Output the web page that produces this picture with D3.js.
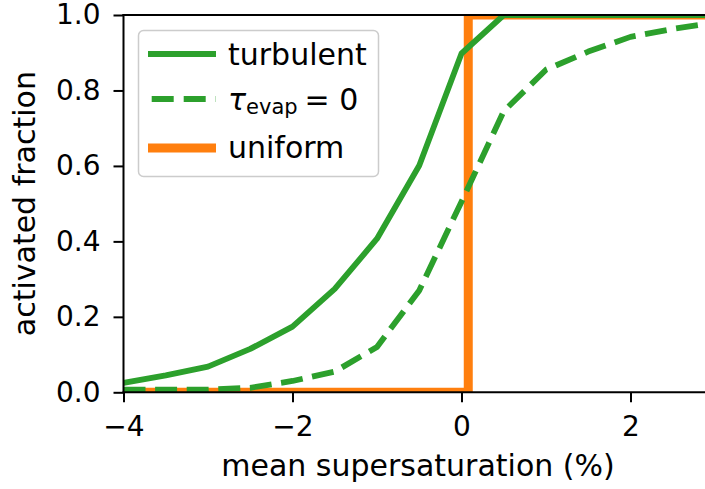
<!DOCTYPE html>
<html>
<head>
<meta charset="utf-8">
<script src="https://cdn.jsdelivr.net/npm/d3@7"></script>
<style>
  html, body { margin: 0; padding: 0; background: #fff; }
  svg { display: block; }
  text { font-family: "DejaVu Sans", sans-serif; fill: #000; }
</style>
</head>
<body>
<svg id="chart" width="705" height="489"></svg>
<script>
// ---- data ----
const xValues = [-4, -3.5, -3, -2.5, -2, -1.5, -1, -0.5, 0, 0.5, 1, 1.5, 2, 2.5, 3];
const turbulent = [0.025, 0.045, 0.068, 0.115, 0.174, 0.274, 0.407, 0.601, 0.898, 1, 1, 1, 1, 1, 1];
const tauEvap0 = [0.007, 0.007, 0.007, 0.012, 0.03, 0.055, 0.12, 0.27, 0.505, 0.745, 0.855, 0.903, 0.942, 0.963, 0.98];
const uniformX = [-4, 0.08, 0.08, 3];
const uniformY = [0, 0, 1, 1];
const xTicks = [-4, -2, 0, 2];
const yTicks = [0, 0.2, 0.4, 0.6, 0.8, 1.0];
const xLabel = "mean supersaturation (%)";
const yLabel = "activated fraction";
const legendLabels = ["turbulent", "τ_evap = 0", "uniform"];

// ---- layout ----
const svg = d3.select("#chart");
const pL = 123.5, pR = 715, pT = 15, pB = 392.3;
const x = d3.scaleLinear().domain([-4, 3]).range([pL, pR]);
const y = d3.scaleLinear().domain([0, 1]).range([pB, pT]);
const green = "#2ca02c", orange = "#ff7f0e";
const dash = "22,9.6";

svg.append("defs").append("clipPath").attr("id", "clip")
  .append("rect").attr("x", pL).attr("y", pT).attr("width", pR - pL).attr("height", pB - pT);

const plot = svg.append("g").attr("clip-path", "url(#clip)");
const line = d3.line().x(d => x(d[0])).y(d => y(d[1]));

plot.append("path")
  .attr("d", line(uniformX.map((v, i) => [v, uniformY[i]])))
  .attr("fill", "none").attr("stroke", orange).attr("stroke-width", 9)
  .attr("stroke-linejoin", "miter");
plot.append("path")
  .attr("d", line(xValues.map((v, i) => [v, turbulent[i]])))
  .attr("fill", "none").attr("stroke", green).attr("stroke-width", 5.8)
  .attr("stroke-linejoin", "round");
plot.append("path")
  .attr("d", line(xValues.map((v, i) => [v, tauEvap0[i]])))
  .attr("fill", "none").attr("stroke", green).attr("stroke-width", 5.8)
  .attr("stroke-dasharray", dash).attr("stroke-linejoin", "round");

// ---- axes ----
const tfs = 28, lfs = 30;
const xAxis = d3.axisBottom(x).tickValues(xTicks).tickSize(10).tickPadding(14)
  .tickFormat(d => d3.format("d")(d).replace("-", "−"));
const gx = svg.append("g").attr("transform", `translate(0,${pB})`).call(xAxis);
gx.select(".domain").remove();
gx.selectAll(".tick line").attr("stroke", "#000").attr("stroke-width", 2);
gx.selectAll(".tick text").attr("font-size", tfs).attr("font-family", "DejaVu Sans").attr("fill", "#000");

const yAxis = d3.axisLeft(y).tickValues(yTicks).tickSize(10).tickPadding(13)
  .tickFormat(d3.format(".1f"));
const gy = svg.append("g").attr("transform", `translate(${pL},0)`).call(yAxis);
gy.select(".domain").remove();
gy.selectAll(".tick line").attr("stroke", "#000").attr("stroke-width", 2);
gy.selectAll(".tick text").attr("font-size", tfs).attr("font-family", "DejaVu Sans").attr("fill", "#000");

// spines
svg.append("line").attr("x1", pL).attr("x2", pL).attr("y1", pT - 1).attr("y2", pB + 1)
  .attr("stroke", "#000").attr("stroke-width", 2);
svg.append("line").attr("x1", pL - 1).attr("x2", 705).attr("y1", pB).attr("y2", pB)
  .attr("stroke", "#000").attr("stroke-width", 2);
svg.append("line").attr("x1", pL - 1).attr("x2", 705).attr("y1", pT).attr("y2", pT)
  .attr("stroke", "#000").attr("stroke-width", 2);

// axis labels
svg.append("text").attr("x", 418).attr("y", 476)
  .attr("text-anchor", "middle").attr("font-size", lfs).text(xLabel);
svg.append("text").attr("transform", `translate(35,${(pT + pB) / 2}) rotate(-90)`)
  .attr("text-anchor", "middle").attr("font-size", lfs).text(yLabel);

// ---- legend ----
const lg = svg.append("g");
lg.append("rect").attr("x", 138.5).attr("y", 30.5).attr("width", 240).attr("height", 146)
  .attr("rx", 5).attr("fill", "#fff").attr("fill-opacity", 0.8)
  .attr("stroke", "#cccccc").attr("stroke-width", 1.5);
const rows = [
  { yy: 54, color: green, w: 5.8, dash: null },
  { yy: 99, color: green, w: 5.8, dash: "22,10" },
  { yy: 148, color: orange, w: 9, dash: null }
];
rows.forEach(r => {
  const l = lg.append("line").attr("x1", 148).attr("x2", 216).attr("y1", r.yy).attr("y2", r.yy)
    .attr("stroke", r.color).attr("stroke-width", r.w);
  if (r.dash) l.attr("stroke-dasharray", r.dash).attr("stroke-dashoffset", -3.7);
});
lg.append("text").attr("x", 228).attr("y", 65).attr("font-size", lfs).text(legendLabels[0]);
const parts = legendLabels[1].split(/_| = /); // ["τ","evap","0"]
const t2 = lg.append("text").attr("x", 228).attr("y", 110).attr("font-size", lfs);
t2.append("tspan").attr("font-style", "italic").text(parts[0]);
t2.append("tspan").attr("font-size", 21).attr("dy", 4).attr("dx", 0).text(parts[1]);
t2.append("tspan").attr("dy", -4).attr("dx", 7).text("= " + parts[2]);
lg.append("text").attr("x", 228).attr("y", 158).attr("font-size", lfs).text(legendLabels[2]);
</script>
</body>
</html>
